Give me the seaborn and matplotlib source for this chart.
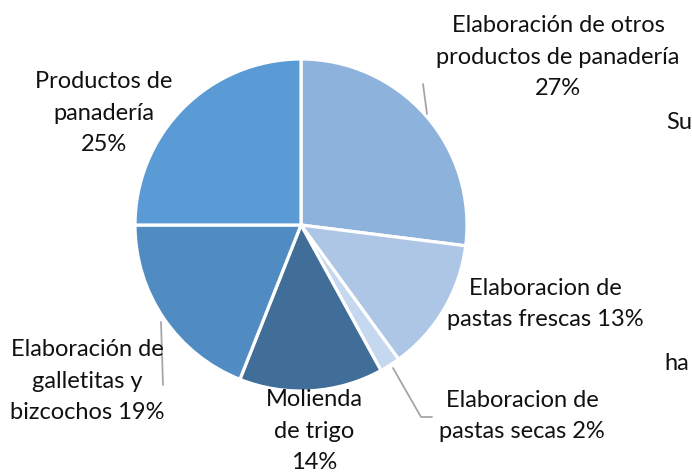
import matplotlib
matplotlib.use("Agg")
import matplotlib.pyplot as plt
import seaborn as sns

# ── Data ──────────────────────────────────────────────────────────────────────
categories = [
    "Elaboración de otros\nproductos de panadería",
    "Elaboracion de\npastas frescas",
    "Elaboracion de\npastas secas",
    "Molienda\nde trigo",
    "Elaboración de\ngalletitas y\nbizcochos",
    "Productos de\npanadería",
]
shares = [27, 13, 2, 14, 19, 25]
label_texts = [
    "Elaboración de otros\nproductos de panadería\n27%",
    "Elaboracion de\npastas frescas 13%",
    "Elaboracion de\npastas secas 2%",
    "Molienda\nde trigo\n14%",
    "Elaboración de\ngalletitas y\nbizcochos 19%",
    "Productos de\npanadería\n25%",
]
colors = ["#8DB3DD", "#ADC6E6", "#C6D8EF", "#416E99", "#508CC2", "#5B9BD5"]
explode = [0, 0, 0, 0.05, 0, 0]

W, H = 692, 474

sns.set_theme(style="white")
plt.rcParams["font.family"] = ["Lato", "DejaVu Sans"]

fig = plt.figure(figsize=(W / 100, H / 100), dpi=100)
ax = fig.add_axes([0, 0, 1, 1])

# pie centre / radius in pixel units (y measured from the bottom)
cx, cy, r = 301, H - 225, 166

ax.pie(shares, colors=colors, explode=explode, startangle=90,
       counterclock=False, center=(cx, cy), radius=r, frame=True,
       wedgeprops=dict(edgecolor="white", linewidth=2.3))
ax.set_xlim(0, W)
ax.set_ylim(0, H)
ax.set_aspect("equal")
ax.axis("off")

# label placement (pixel coords from top)
label_pos = [(558, 57), (545, 304), (522, 416), (314, 431), (87, 381), (104, 113)]
for txt, (px, py) in zip(label_texts, label_pos):
    ax.text(px, H - py, txt, ha="center", va="center", fontsize=17,
            linespacing=1.6, color="#111111")

# leader lines
lc = "#A6A6A6"
ax.plot([423, 427], [H - 84, H - 114], color=lc, lw=1.3)
ax.plot([161, 163], [H - 322, H - 385], color=lc, lw=1.3)
ax.plot([393, 421, 432], [H - 368, H - 417, H - 417], color=lc, lw=1.3)

# fragments of neighbouring text at the right edge
ax.text(666, H - 122, "Su", ha="left", va="center", fontsize=17, color="#111111")
ax.text(664, H - 363, "ha", ha="left", va="center", fontsize=17, color="#111111")

fig.savefig("out.png", dpi=100)
